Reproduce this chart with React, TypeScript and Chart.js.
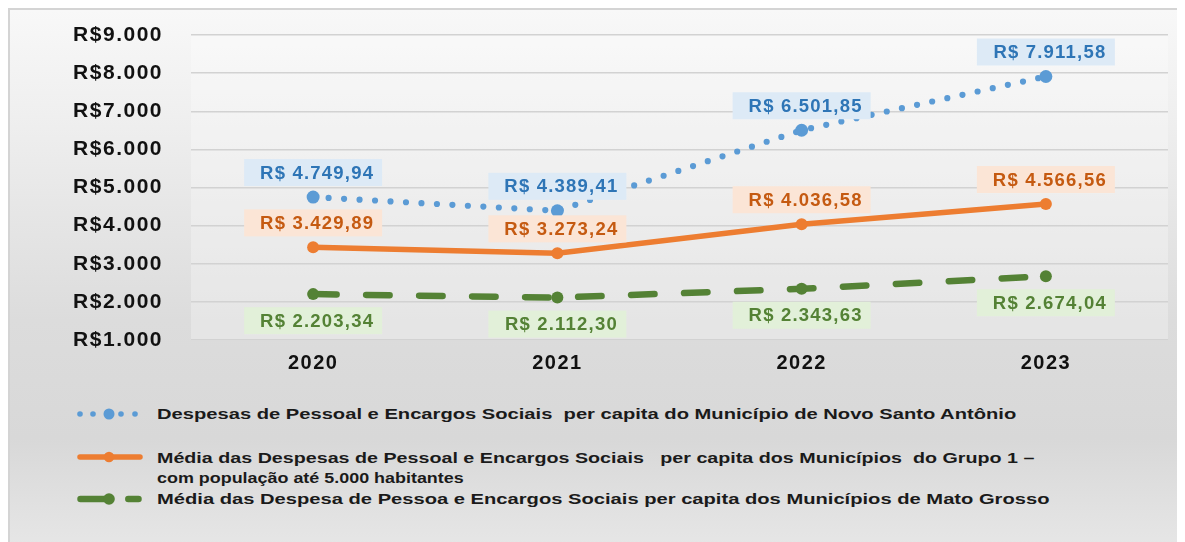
import React, { useEffect, useRef } from 'react';
import { Chart, registerables } from 'chart.js';

Chart.register(...registerables);

const years = ['2020', '2021', '2022', '2023'];
const novoSantoAntonio = [4749.94, 4389.41, 6501.85, 7911.58];
const grupo1 = [3429.89, 3273.24, 4036.58, 4566.56];
const matoGrosso = [2203.34, 2112.3, 2343.63, 2674.04];
const yTickValues = [1000, 2000, 3000, 4000, 5000, 6000, 7000, 8000, 9000];

const legendNovo = 'Despesas de Pessoal e Encargos Sociais  per capita do Município de Novo Santo Antônio';
const legendGrupo1a = 'Média das Despesas de Pessoal e Encargos Sociais   per capita dos Municípios  do Grupo 1 –';
const legendGrupo1b = 'com população até 5.000 habitantes';
const legendMT = 'Média das Despesa de Pessoa e Encargos Sociais per capita dos Municípios de Mato Grosso';

const BLUE = '#5b9bd5';
const ORANGE = '#ed7d31';
const GREEN = '#548235';
const FONT = '"Liberation Sans", Arial, Helvetica, sans-serif';

const labelStyles = [
  { bg: '#ddeaf6', color: '#2e75b6', dy: -24.5 },
  { bg: '#fbe5d6', color: '#c55a11', dy: -24.5 },
  { bg: '#e2f0d9', color: '#548235', dy: 26.5 },
];

function thousands(n: string) {
  return n.replace(/\B(?=(\d{3})+(?!\d))/g, '.');
}
function fmtMoney(v: number) {
  const [i, d] = v.toFixed(2).split('.');
  return 'R$ ' + thousands(i) + ',' + d;
}
function fmtTick(v: number) {
  return 'R$' + thousands(String(Math.round(v)));
}

const bgPlugin = {
  id: 'plotBg',
  beforeDraw(chart: any) {
    const { ctx, chartArea } = chart;
    ctx.save();
    ctx.fillStyle = 'rgba(255,255,255,0.28)';
    ctx.fillRect(chartArea.left, chartArea.top - 1, chartArea.right - chartArea.left, chartArea.bottom - chartArea.top + 2);
    ctx.restore();
    (ctx as any).letterSpacing = '1.5px';
  },
  afterDraw(chart: any) {
    (chart.ctx as any).letterSpacing = '0px';
  },
};

const labelPlugin = {
  id: 'boxLabels',
  afterDatasetsDraw(chart: any) {
    const ctx = chart.ctx;
    chart.data.datasets.forEach((ds: any, di: number) => {
      const meta = chart.getDatasetMeta(di);
      const st = labelStyles[di];
      meta.data.forEach((pt: any, i: number) => {
        const cx = pt.x;
        const cy = pt.y + st.dy;
        ctx.save();
        ctx.fillStyle = st.bg;
        ctx.fillRect(cx - 69, cy - 13.5, 138, 27);
        ctx.font = 'bold 18.5px ' + FONT;
        (ctx as any).letterSpacing = '1.2px';
        ctx.fillStyle = st.color;
        ctx.textAlign = 'center';
        ctx.textBaseline = 'middle';
        ctx.fillText(fmtMoney(ds.data[i]), cx + 4, cy + 1);
        ctx.restore();
      });
    });
  },
};

export default function App() {
  const ref = useRef<HTMLCanvasElement>(null);

  useEffect(() => {
    const chart = new Chart(ref.current as HTMLCanvasElement, {
      type: 'line',
      data: {
        labels: years,
        datasets: [
          {
            label: legendNovo,
            data: novoSantoAntonio,
            borderColor: BLUE,
            backgroundColor: BLUE,
            borderWidth: 6.2,
            borderDash: [0, 15.5],
            borderCapStyle: 'round',
            pointRadius: 6.5,
            pointBackgroundColor: BLUE,
            pointBorderWidth: 0,
            tension: 0,
            fill: false,
          },
          {
            label: legendGrupo1a + ' ' + legendGrupo1b,
            data: grupo1,
            borderColor: ORANGE,
            backgroundColor: ORANGE,
            borderWidth: 5.5,
            borderCapStyle: 'round',
            pointRadius: 6,
            pointBackgroundColor: ORANGE,
            pointBorderWidth: 0,
            tension: 0,
            fill: false,
          },
          {
            label: legendMT,
            data: matoGrosso,
            borderColor: GREEN,
            backgroundColor: GREEN,
            borderWidth: 6.5,
            borderDash: [23.5, 29.5],
            borderCapStyle: 'round',
            pointRadius: 6,
            pointBackgroundColor: GREEN,
            pointBorderWidth: 0,
            tension: 0,
            fill: false,
          },
        ],
      } as any,
      options: {
        responsive: false,
        animation: false,
        layout: { padding: { left: 0, right: 13, top: 25, bottom: 0 } },
        plugins: {
          legend: { display: false },
          tooltip: { enabled: false },
        },
        scales: {
          x: {
            offset: true,
            grid: { display: false, drawTicks: false },
            border: { display: false },
            ticks: {
              color: '#111111',
              font: { family: FONT, size: 20, weight: 'bold' },
              padding: 11,
            },
            afterFit: (s: any) => {
              s.height = 50;
            },
          },
          y: {
            min: yTickValues[0],
            max: yTickValues[yTickValues.length - 1],
            afterBuildTicks: (s: any) => {
              s.ticks = yTickValues.map((v) => ({ value: v }));
            },
            ticks: {
              callback: (v: any) => fmtTick(Number(v)),
              color: '#111111',
              font: { family: FONT, size: 21, weight: 'bold' },
              padding: 28,
            },
            grid: { color: '#d2d2d2', lineWidth: 1.5, drawTicks: false },
            border: { display: false },
            afterFit: (s: any) => {
              s.width = 181;
              s.paddingTop = 0;
              s.paddingBottom = 0;
            },
          },
        },
      } as any,
      plugins: [bgPlugin, labelPlugin],
    });
    return () => chart.destroy();
  }, []);

  const textStyle = (top: number, sx: number): React.CSSProperties => ({
    position: 'absolute',
    left: 147,
    top: top - 10,
    height: 20,
    lineHeight: '20px',
    fontSize: 15.5,
    fontWeight: 'bold',
    color: '#1a1a1a',
    whiteSpace: 'pre',
    transform: `scaleX(${sx})`,
    transformOrigin: 'left center',
  });
  const sampleStyle = (top: number): React.CSSProperties => ({
    position: 'absolute',
    left: 66,
    top: top - 8,
  });

  return (
    <div
      style={{
        position: 'relative',
        width: 1175,
        height: 540,
        boxSizing: 'border-box',
        border: '2px solid #d4d4d4',
        background:
          'linear-gradient(to bottom, #f8f8f8 0%, #eeeeee 22%, #dcdcdc 58%, #d8d8d8 80%, #e6e6e6 100%)',
        fontFamily: FONT,
        overflow: 'hidden',
      }}
    >
      <div style={{ position: 'absolute', left: 0, top: 0, width: 1171, height: 380 }}>
        <canvas ref={ref} width={1171} height={380} />
      </div>

      <svg width={70} height={16} style={sampleStyle(404)}>
        <circle cx={4} cy={8} r={2.8} fill={BLUE} />
        <circle cx={17} cy={8} r={2.8} fill={BLUE} />
        <circle cx={33} cy={8} r={5.5} fill={BLUE} />
        <circle cx={45} cy={8} r={2.8} fill={BLUE} />
        <circle cx={59} cy={8} r={2.8} fill={BLUE} />
      </svg>
      <div style={textStyle(404, 1.3)}>{legendNovo}</div>

      <svg width={70} height={16} style={sampleStyle(447)}>
        <line x1={4} y1={8} x2={64} y2={8} stroke={ORANGE} strokeWidth={5.5} strokeLinecap="round" />
        <circle cx={33} cy={8} r={5.2} fill={ORANGE} />
      </svg>
      <div style={textStyle(448, 1.27)}>{legendGrupo1a}</div>
      <div style={textStyle(468, 1.156)}>{legendGrupo1b}</div>

      <svg width={70} height={16} style={sampleStyle(489)}>
        <line x1={4.5} y1={8} x2={30} y2={8} stroke={GREEN} strokeWidth={6.5} strokeLinecap="round" />
        <circle cx={33} cy={8} r={5.8} fill={GREEN} />
        <line x1={52.3} y1={8} x2={62.5} y2={8} stroke={GREEN} strokeWidth={6.5} strokeLinecap="round" />
      </svg>
      <div style={textStyle(489, 1.3)}>{legendMT}</div>
    </div>
  );
}
